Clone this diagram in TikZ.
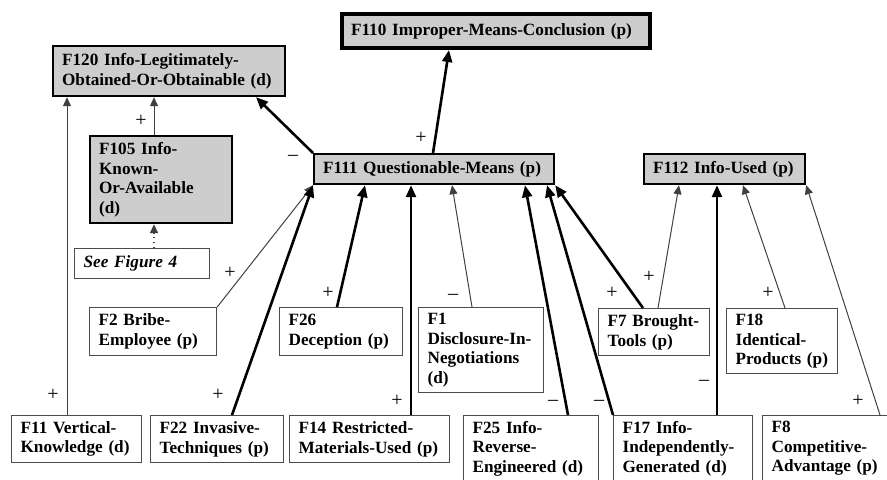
\documentclass[tikz,border=0pt]{standalone}
\usepackage{fontspec}
\setmainfont{Liberation Serif}
\usetikzlibrary{arrows.meta}
\definecolor{factgray}{RGB}{205,205,205}
\newcommand{\factfont}{\bfseries\fontsize{8.6}{9.75}\selectfont\hyphenpenalty=10000\exhyphenpenalty=10000}
\newcommand{\signfont}{\fontsize{10}{11}\selectfont}
\tikzset{
  factbox/.style={draw=black!70, line width=0.6pt, align=left, anchor=north west,
    inner xsep=4.5pt, inner ysep=1pt, font=\factfont},
  issuebox/.style={factbox, draw=black, fill=factgray, line width=1.1pt},
  goalbox/.style={issuebox, line width=2pt},
  thinlink/.style={draw=black!75, line width=0.5pt, -{Triangle[length=4.5pt,width=4pt]}},
  thicklink/.style={draw=black, line width=1.3pt, -{Triangle[length=6pt,width=5pt]}},
  signlbl/.style={font=\signfont, inner sep=0pt}
}

\begin{document}
\begin{tikzpicture}[x=0.5pt,y=-0.5pt]
  \useasboundingbox (0,0) rectangle (887,479);
  % Issue nodes
  \node[goalbox, text width=145pt, minimum height=17pt] (f110) at (340,12) {F110 Improper-Means-Conclusion (p)};
  \node[issuebox, text width=107pt, minimum height=25pt] (f120) at (52,45) {F120 Info-Legitimately-\\Obtained-Or-Obtainable (d)};
  \node[issuebox, text width=62pt, minimum height=43.5pt] (f105) at (89,135) {F105 Info-\\Known-\\Or-Available\\(d)};
  \node[factbox, text width=58.5pt, minimum height=15pt] (see) at (74,248) {\itshape See Figure 4};
  \node[issuebox, text width=111pt, minimum height=15pt] (f111) at (313,153) {F111 Questionable-Means (p)};
  \node[issuebox, text width=71.5pt, minimum height=15pt] (f112) at (643,153) {F112 Info-Used (p)};
  % Factors, middle row
  \node[factbox, text width=54.5pt, minimum height=24pt] (f2) at (89,307) {F2 Bribe-\\Employee (p)};
  \node[factbox, text width=52.5pt, minimum height=24pt] (f26) at (279,307) {F26\\Deception (p)};
  \node[factbox, text width=53.5pt, minimum height=42.5pt] (f1) at (418,307) {F1\\Disclosure-In-\\Negotiations\\(d)};
  \node[factbox, text width=46.5pt, minimum height=23.5pt] (f7) at (598,308) {F7 Brought-\\Tools (p)};
  \node[factbox, text width=46.5pt, minimum height=32.5pt] (f18) at (726,308) {F18\\Identical-\\Products (p)};
  % Factors, bottom row
  \node[factbox, text width=56pt, minimum height=23.5pt] (f11) at (11,415) {F11 Vertical-\\Knowledge (d)};
  \node[factbox, text width=57.5pt, minimum height=23.5pt] (f22) at (150,415) {F22 Invasive-\\Techniques (p)};
  \node[factbox, text width=71pt, minimum height=23.5pt] (f14) at (289,415) {F14 Restricted-\\Materials-Used (p)};
  \node[factbox, text width=58.5pt, minimum height=33pt] (f25) at (463,415) {F25 Info-\\Reverse-\\Engineered (d)};
  \node[factbox, text width=60.5pt, minimum height=33pt] (f17) at (613,415) {F17 Info-\\Independently-\\Generated (d)};
  \node[factbox, text width=56pt, minimum height=33pt] (f8) at (762,415) {F8\\Competitive-\\Advantage (p)};
  % Links into F120 and F110
  \draw[thinlink] (67,0 |- f11.north) -- (67,0 |- f120.south);
  \draw[thinlink] (154,0 |- f105.north) -- (154,0 |- f120.south);
  \draw[thinlink, dotted, line width=0.8pt] (154,0 |- see.north) -- (154,0 |- f105.south);
  \draw[thicklink] (f111.north west) -- (256,0 |- f120.south);
  \draw[thicklink] (433,0 |- f111.north) -- (449,0 |- f110.south);
  % Links into F111
  \draw[thinlink] (f2.north east) -- (f111.south west);
  \draw[thicklink] (232,0 |- f22.north) -- (f111.south west);
  \draw[thicklink] (337,0 |- f26.north) -- (365,0 |- f111.south);
  \draw[thicklink] (411,0 |- f14.north) -- (411,0 |- f111.south);
  \draw[thinlink] (472,0 |- f1.north) -- (452,0 |- f111.south);
  \draw[thicklink] (568,0 |- f25.north) -- (525,0 |- f111.south);
  \draw[thicklink] (f17.north west) -- (547,0 |- f111.south);
  \draw[thicklink] (643,0 |- f7.north) -- (f111.south east);
  % Links into F112
  \draw[thinlink] (658,0 |- f7.north) -- (679,0 |- f112.south);
  \draw[thicklink] (717,0 |- f17.north) -- (717,0 |- f112.south);
  \draw[thinlink] (785,0 |- f18.north) -- (743,0 |- f112.south);
  \draw[thinlink] (880,0 |- f8.north) -- (f112.south east);
  % Signs
  \node[signlbl] (s11) at (53,395) {+};
  \node[signlbl] (s105) at (141,121) {+};
  \node[signlbl] (s111a) at (293,158) {–};
  \node[signlbl] (s111b) at (421,138) {+};
  \node[signlbl] (s2) at (230,273) {+};
  \node[signlbl] (s22) at (218,395) {+};
  \node[signlbl] (s26) at (328,293) {+};
  \node[signlbl] (s14) at (397,401) {+};
  \node[signlbl] (s1) at (453,297) {–};
  \node[signlbl] (s25) at (553,403) {–};
  \node[signlbl] (s17a) at (599,403) {–};
  \node[signlbl] (s7a) at (612,293) {+};
  \node[signlbl] (s7b) at (649,277) {+};
  \node[signlbl] (s17b) at (704,383) {–};
  \node[signlbl] (s18) at (768,293) {+};
  \node[signlbl] (s8) at (858,401) {+};
\end{tikzpicture}
\end{document}
